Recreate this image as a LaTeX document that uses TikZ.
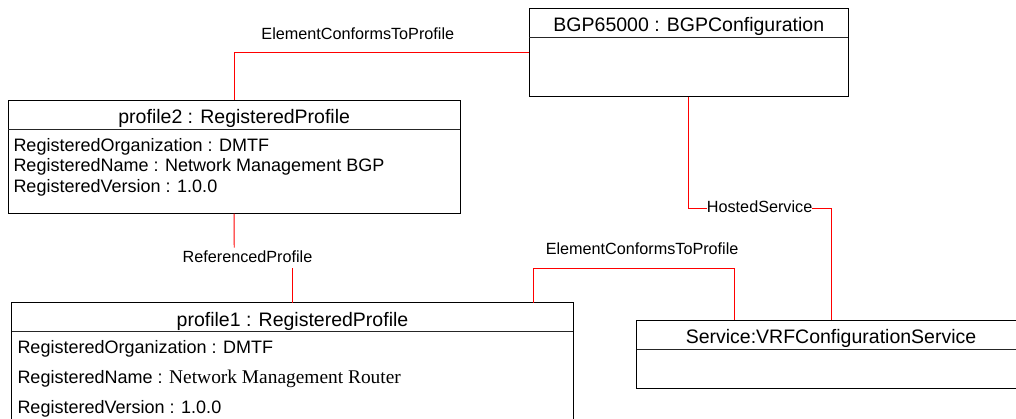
\documentclass[tikz,border=0pt]{standalone}
\usepackage{fontspec}
\setmainfont{Liberation Sans}
\newfontfamily\timesfont{Liberation Serif}
\begin{document}
\begin{tikzpicture}[x=1pt,y=-1pt,
  box/.style={draw=black, line width=0.9pt, inner sep=0pt, outer sep=0pt, anchor=north west},
  sepline/.style={draw=black!85, line width=0.9pt},
  title/.style={font=\fontsize{19.5}{22}\selectfont, anchor=base, inner sep=0pt},
  attr/.style={font=\fontsize{18}{20}\selectfont, anchor=base west, inner sep=0pt},
  assoc/.style={draw=red, line width=0.9pt},
  lbl/.style={font=\fontsize{16.2}{18}\selectfont, anchor=base, inner sep=0pt}]
\useasboundingbox (0,0) rectangle (1016,419);
\clip (0,0) rectangle (1016,419);

% class boxes (the service box runs on past the right edge of the sheet)
\node[box, minimum width=319pt, minimum height=88.4pt] (bgp) at (529.3,8.3) {};
\node[box, minimum width=452.3pt, minimum height=113.7pt] (p2) at (8,100) {};
\node[box, minimum width=561.6pt, minimum height=200pt] (p1) at (11.7,302.7) {};
\node[box, minimum width=440pt, minimum height=68pt] (svc) at (636.7,320.3) {};

% compartment separators
\draw[sepline] (bgp.west |- 0,37.7) -- (bgp.east |- 0,37.7);
\draw[sepline] (p2.west |- 0,129.3) -- (p2.east |- 0,129.3);
\draw[sepline] (p1.west |- 0,331.7) -- (p1.east |- 0,331.7);
\draw[sepline] (svc.west |- 0,349.3) -- (svc.east |- 0,349.3);

% titles
\node[title] (bgpT) at (688.8,31.7) {BGP65000 : BGPConfiguration};
\node[title] (p2T) at (234.2,123.3) {profile2 : RegisteredProfile};
\node[title] (p1T) at (292.5,326) {profile1 : RegisteredProfile};
\node[title] (svcT) at (831,343.3) {Service:VRFConfigurationService};

% attributes
\node[attr] (p2a1) at (13.3,151.5) {RegisteredOrganization : DMTF};
\node[attr] (p2a2) at (13.3,172) {RegisteredName : Network Management BGP};
\node[attr] (p2a3) at (13.3,193) {RegisteredVersion : 1.0.0};
\node[attr] (p1a1) at (17.3,353.3) {RegisteredOrganization : DMTF};
\node[attr] (p1a2) at (17.3,383.3) {RegisteredName : {\timesfont\fontsize{19.4}{21}\selectfont Network Management Router}};
\node[attr] (p1a3) at (17.3,413.3) {RegisteredVersion : 1.0.0};

% association labels
\node[lbl] (ectp1) at (357.8,40) {ElementConformsToProfile};
\node[lbl] (refp) at (247.5,262.7) {ReferencedProfile};
\node[lbl] (hosted) at (759.6,212.3) {HostedService};
\node[lbl] (ectp2) at (642.1,254.3) {ElementConformsToProfile};

% associations
\draw[assoc] (p2.north) |- (bgp.west);
\coordinate (refTop) at (234.2,247.7);
\coordinate (refBot) at (292.5,268.3);
\draw[assoc] (p2.south) -- (refTop);
\draw[assoc] (refBot) -- (p1.north);
\draw[assoc] (bgp.south) |- ([yshift=-1.9pt]hosted.west);
\draw[assoc] ([yshift=-1.9pt]hosted.east) -| (svcT.north |- svc.north);
\draw[assoc] ([xshift=-40pt]p1.north east) -- ++(0,-34.4) -| ([xshift=97.6pt]svc.north west);
\end{tikzpicture}
\end{document}
